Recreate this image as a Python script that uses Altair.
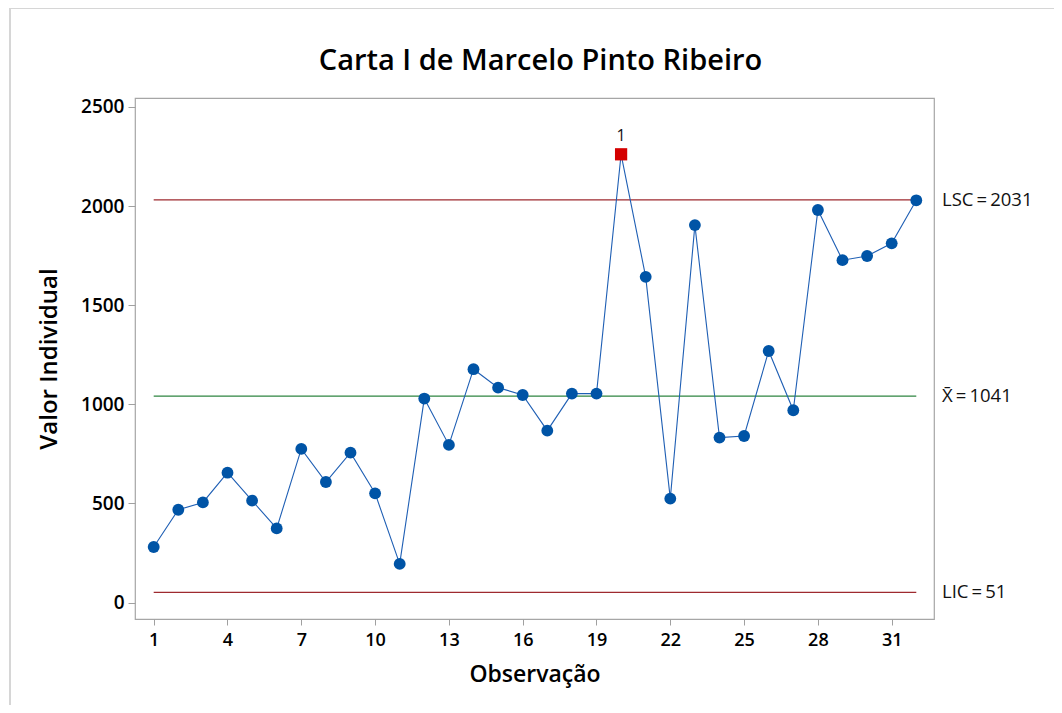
import altair as alt
import pandas as pd

# ---- data ----
observacao = list(range(1, 33))
valores = [280, 468, 505, 655, 514, 374, 775, 608, 756, 551,
           195, 1029, 795, 1177, 1084, 1047, 867, 1054, 1054, 2261,
           1643, 524, 1904, 832, 840, 1269, 970, 1980, 1727, 1748,
           1812, 2029]
fora_controle = [20]          # point flagged by test 1
limite_valores = [2031, 1041, 51]
limite_rotulos = ["LSC\u2009=\u20092031", "X\u0304\u2009=\u20091041", "LIC\u2009=\u200951"]
limite_cores = ["#9e2a2f", "#2e8540", "#9e2a2f"]
x_ticks = [1, 4, 7, 10, 13, 16, 19, 22, 25, 28, 31]
y_ticks = [0, 500, 1000, 1500, 2000, 2500]
titulo = "Carta I de Marcelo Pinto Ribeiro"

FONT = "Open Sans"
W, H = 799, 521

df = pd.DataFrame({"obs": observacao, "valor": valores})
df["fora"] = df["obs"].isin(fora_controle)
df["teste"] = ["1" if f else "" for f in df["fora"]]

lim = pd.DataFrame({"valor": limite_valores,
                    "rotulo": limite_rotulos, "cor": limite_cores})
lim["x1"] = min(observacao)
lim["x2"] = max(observacao)

xs = alt.Scale(domain=[0.24, 32.72], nice=False, zero=False)
ys = alt.Scale(domain=[-83, 2545], nice=False, zero=False)

X = alt.X("obs:Q", scale=xs,
          axis=alt.Axis(values=x_ticks, title="Observação", grid=False,
                        domain=False, tickColor="#a0a0a0", tickSize=6,
                        format="d",
                        labelFont=FONT, labelFontSize=18, labelFontWeight=600,
                        labelColor="#000", labelPadding=6,
                        titleFont=FONT, titleFontSize=23, titleFontWeight=600,
                        titleColor="#000", titlePadding=14))
Y = alt.Y("valor:Q", scale=ys,
          axis=alt.Axis(values=y_ticks, title="Valor Individual", grid=False,
                        domain=False, tickColor="#a0a0a0", tickSize=7,
                        format="d",
                        labelFont=FONT, labelFontSize=19, labelFontWeight=600,
                        labelColor="#000", labelPadding=4,
                        titleFont=FONT, titleFontSize=24, titleFontWeight=600,
                        titleColor="#000", titlePadding=19))

base = alt.Chart(df)

rules = alt.Chart(lim).mark_rule(strokeWidth=1.3).encode(
    x=alt.X("x1:Q", scale=xs), x2="x2:Q",
    y=alt.Y("valor:Q", scale=ys),
    color=alt.Color("cor:N", scale=None, legend=None))

rule_labels = alt.Chart(lim).mark_text(
    align="left", baseline="middle", font=FONT, fontSize=18.5, color="#111"
).encode(x=alt.value(W + 8), y=alt.Y("valor:Q", scale=ys), text="rotulo:N")

line = base.mark_line(color="#1f5fb4", strokeWidth=1.1).encode(x=X, y=Y)

pts = base.transform_filter("!datum.fora").mark_point(
    shape="circle", filled=True, size=140, color="#0054a6", opacity=1
).encode(x=alt.X("obs:Q", scale=xs), y=alt.Y("valor:Q", scale=ys))

out_pts = base.transform_filter("datum.fora").mark_point(
    shape="square", filled=True, size=150, color="#d40000", opacity=1
).encode(x=alt.X("obs:Q", scale=xs), y=alt.Y("valor:Q", scale=ys))

out_txt = base.transform_filter("datum.fora").mark_text(
    dy=-18, font=FONT, fontSize=16, color="#111"
).encode(x=alt.X("obs:Q", scale=xs), y=alt.Y("valor:Q", scale=ys), text="teste:N")

title_mark = alt.Chart(pd.DataFrame({"t": [titulo]})).mark_text(
    font=FONT, fontSize=29, fontWeight=600, color="#000",
    align="center", baseline="alphabetic"
).encode(x=alt.value(W / 2 + 6), y=alt.value(-28), text="t:N")

# light outer figure border (top and left)
border_top = alt.Chart(df).mark_rule(color="#d6d6d6", strokeWidth=1.5).encode(
    x=alt.value(-125), x2=alt.value(930), y=alt.value(-90))
border_left = alt.Chart(df).mark_rule(color="#d6d6d6", strokeWidth=1.5).encode(
    x=alt.value(-125), y=alt.value(-90), y2=alt.value(610))

chart = alt.layer(
    rules, line, pts, out_pts, out_txt, rule_labels, title_mark,
    border_top, border_left
).properties(
    width=W, height=H,
    autosize=alt.AutoSizeParams(type="none"),
    padding={"left": 127, "top": 90, "right": 120, "bottom": 86},
).configure_view(stroke="#a6a6a6", strokeWidth=1.2)

chart.save("out.html", embed_options={"renderer": "svg", "actions": False})
